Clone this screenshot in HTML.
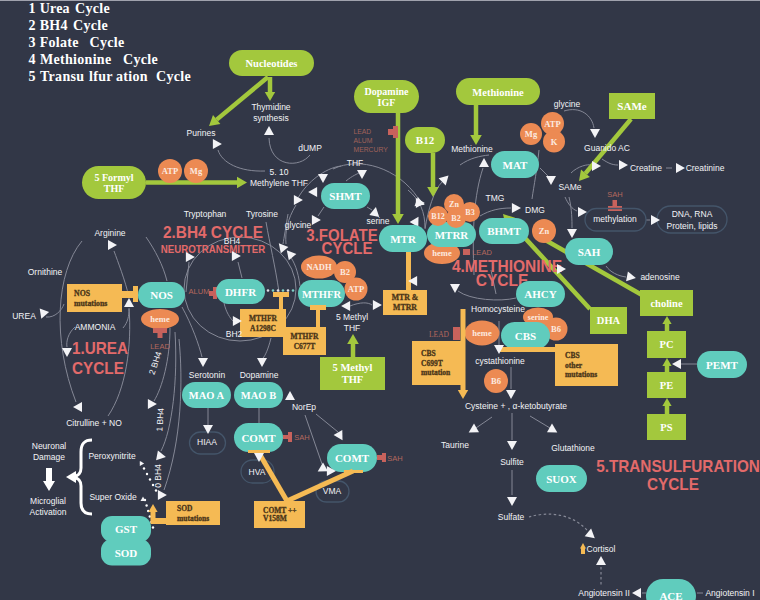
<!DOCTYPE html>
<html><head><meta charset="utf-8"><style>
html,body{margin:0;padding:0;background:#323747;width:760px;height:600px;overflow:hidden}
svg{display:block}
</style></head><body>
<svg width="760" height="600" viewBox="0 0 760 600">
<rect width="760" height="600" fill="#323747"/>
<line x1="0" y1="0.5" x2="760" y2="0.5" stroke="#a0a2ad" stroke-width="1.2" />
<text y="13" font-size="14" fill="#ffffff" font-family='"Liberation Serif", serif' font-weight="bold" letter-spacing="0.3"><tspan x="28.5">1</tspan><tspan x="39.7">Ure</tspan><tspan x="62.6">a</tspan><tspan x="75">Cycle</tspan></text>
<text y="30" font-size="14" fill="#ffffff" font-family='"Liberation Serif", serif' font-weight="bold" letter-spacing="0.3"><tspan x="28.5">2</tspan><tspan x="39.7">BH4</tspan><tspan x="73">Cycle</tspan></text>
<text y="47" font-size="14" fill="#ffffff" font-family='"Liberation Serif", serif' font-weight="bold" letter-spacing="0.3"><tspan x="28.5">3</tspan><tspan x="39.7">Folate</tspan><tspan x="89.5">Cycle</tspan></text>
<text y="64" font-size="14" fill="#ffffff" font-family='"Liberation Serif", serif' font-weight="bold" letter-spacing="0.3"><tspan x="28.5">4</tspan><tspan x="40">Methionine</tspan><tspan x="123">Cycle</tspan></text>
<text y="81" font-size="14" fill="#ffffff" font-family='"Liberation Serif", serif' font-weight="bold" letter-spacing="0.3"><tspan x="28.5">5</tspan><tspan x="40">Transu</tspan><tspan x="89">lfur</tspan><tspan x="116">ation</tspan><tspan x="156">Cycle</tspan></text>
<path d="M265,171 C240,172 222,163 218,150" stroke="#858896" stroke-width="1" fill="none" />
<path d="M310,155 C300,168 270,168 269,138" stroke="#858896" stroke-width="1" fill="none" />
<path d="M341,166 C325,168 307,182 298,198" stroke="#858896" stroke-width="1" fill="none" />
<path d="M296,205 C287,220 285,232 286,244" stroke="#858896" stroke-width="1" fill="none" />
<path d="M333,169 C360,156 398,168 418,198" stroke="#858896" stroke-width="1" fill="none" />
<path d="M346,181 C352,176 357,174 361,172" stroke="#858896" stroke-width="1" fill="none" />
<path d="M324,207 L318,216" stroke="#858896" stroke-width="1" fill="none" />
<path d="M367,207 L372,210" stroke="#858896" stroke-width="1" fill="none" />
<path d="M300,286 C298,270 294,262 290,256" stroke="#858896" stroke-width="1" fill="none" />
<path d="M266,222 C270,245 275,265 279,292" stroke="#858896" stroke-width="1" fill="none" />
<path d="M288,214 C286,226 284,238 283,244" stroke="#858896" stroke-width="1" fill="none" />
<ellipse cx="240" cy="289" rx="56" ry="52" fill="none" stroke="#858896" stroke-width="1"/>
<path d="M242,278 L238,262" stroke="#858896" stroke-width="1" fill="none" />
<path d="M224,303 C226,312 230,318 233,321" stroke="#858896" stroke-width="1" fill="none" />
<path d="M189,262 C188,272 187,282 186,292" stroke="#858896" stroke-width="1" fill="none" />
<path d="M146,237 C155,250 163,265 167,281" stroke="#858896" stroke-width="1" fill="none" />
<path d="M82,241 C56,272 52,340 76,402" stroke="#858896" stroke-width="1" fill="none" />
<path d="M46,317 C55,318 62,310 64,304" stroke="#858896" stroke-width="1" fill="none" />
<path d="M75,327 C68,333 66,342 67,347" stroke="#858896" stroke-width="1" fill="none" />
<path d="M108,416 C126,390 132,345 129,308" stroke="#858896" stroke-width="1" fill="none" />
<path d="M123,328 C128,322 129,316 129,309" stroke="#858896" stroke-width="1" fill="none" />
<path d="M129,297 C125,280 118,262 114,251" stroke="#858896" stroke-width="1" fill="none" />
<path d="M170,328 C170,360 162,388 154,401" stroke="#858896" stroke-width="1" fill="none" />
<path d="M175,332 C178,380 172,430 161,451" stroke="#858896" stroke-width="1" fill="none" />
<path d="M179,339 C183,380 182,440 164,490" stroke="#858896" stroke-width="1" fill="none" />
<path d="M271,338 C268,350 265,356 263,358" stroke="#858896" stroke-width="1" fill="none" />
<path d="M182,307 C192,325 199,345 202,357" stroke="#858896" stroke-width="1" fill="none" />
<path d="M208,408 L208,425" stroke="#858896" stroke-width="1" fill="none" />
<path d="M259,408 L259,423" stroke="#858896" stroke-width="1" fill="none" />
<path d="M305,415 L322,464" stroke="#858896" stroke-width="1" fill="none" />
<path d="M316,414 L338,432" stroke="#858896" stroke-width="1" fill="none" />
<path d="M460,165 C470,158 480,156 489,155" stroke="#858896" stroke-width="1" fill="none" />
<path d="M474,275 C472,230 474,195 483,168" stroke="#858896" stroke-width="1" fill="none" />
<path d="M425,229 C428,210 434,190 442,182" stroke="#858896" stroke-width="1" fill="none" />
<path d="M408,190 C420,200 425,212 425,228" stroke="#858896" stroke-width="1" fill="none" />
<path d="M540,168 L548,176" stroke="#858896" stroke-width="1" fill="none" />
<path d="M539,150 C537,170 534,185 532,199" stroke="#858896" stroke-width="1" fill="none" />
<path d="M480,216 C490,210 500,208 511,208" stroke="#858896" stroke-width="1" fill="none" />
<path d="M516,298 C500,302 470,300 458,291" stroke="#858896" stroke-width="1" fill="none" />
<path d="M491,270 L496,294" stroke="#858896" stroke-width="1" fill="none" />
<path d="M499,321 L499,345" stroke="#858896" stroke-width="1" fill="none" />
<path d="M511,367 L511,389" stroke="#858896" stroke-width="1" fill="none" />
<path d="M564,111 C580,106 592,115 594,128" stroke="#858896" stroke-width="1" fill="none" />
<path d="M571,173 C578,166 588,164 591,165" stroke="#858896" stroke-width="1" fill="none" />
<path d="M602,159 C608,163 612,165 618,165" stroke="#858896" stroke-width="1" fill="none" />
<path d="M666,168 L672,168" stroke="#858896" stroke-width="1" fill="none" />
<path d="M565,197 C568,204 572,209 577,211" stroke="#858896" stroke-width="1" fill="none" />
<path d="M569,197 C572,210 572,220 572,228" stroke="#858896" stroke-width="1" fill="none" />
<path d="M606,266 C610,272 618,276 626,277" stroke="#858896" stroke-width="1" fill="none" />
<path d="M697,364 L681,364" stroke="#858896" stroke-width="1" fill="none" />
<path d="M646,220 L650,220" stroke="#858896" stroke-width="1" fill="none" />
<path d="M492,417 L476,428" stroke="#858896" stroke-width="1" fill="none" />
<path d="M512,413 L512,440" stroke="#858896" stroke-width="1" fill="none" />
<path d="M530,416 L550,428" stroke="#858896" stroke-width="1" fill="none" />
<path d="M512,470 L512,495" stroke="#858896" stroke-width="1" fill="none" />
<path d="M529,517 C545,512 570,512 587,530" stroke="#858896" stroke-width="1.2" fill="none" stroke-dasharray="2.5,2.5"/>
<path d="M601,567 L601,586" stroke="#858896" stroke-width="1.2" fill="none" stroke-dasharray="2.5,2.5"/>
<path d="M646,593 L642,593" stroke="#858896" stroke-width="1" fill="none" />
<path d="M697,593 L703,593" stroke="#858896" stroke-width="1" fill="none" />
<rect x="229" y="50" width="85" height="26" rx="13.0" ry="13.0" fill="#a3c83d"/>
<text x="271.5" y="67.2" font-size="10.5" text-anchor="middle" fill="#ffffff" font-family='"Liberation Serif", serif' font-weight="bold" >Nucleotides</text>
<line x1="268" y1="77" x2="216.6928896282899" y2="119.61098996972535" stroke="#a3c83d" stroke-width="4.5" />
<polygon points="209.0,126.0 213.0,115.1 220.4,124.1" fill="#a3c83d"/>
<line x1="270" y1="77" x2="270.0" y2="92.0" stroke="#a3c83d" stroke-width="4.5" />
<polygon points="270.0,101.0 264.8,92.0 275.2,92.0" fill="#a3c83d"/>
<text x="271" y="110" font-size="8.5" text-anchor="middle" fill="#f3f3f6" font-family='"Liberation Sans", sans-serif' font-weight="normal" >Thymidine</text>
<text x="271" y="121" font-size="8.5" text-anchor="middle" fill="#f3f3f6" font-family='"Liberation Sans", sans-serif' font-weight="normal" >synthesis</text>
<text x="201" y="136" font-size="8.5" text-anchor="middle" fill="#f3f3f6" font-family='"Liberation Sans", sans-serif' font-weight="normal" >Purines</text>
<polygon points="221.9,144.0 212.9,149.0 212.9,139.0" fill="#f3f3f6"/>
<text x="310" y="151" font-size="8.5" text-anchor="middle" fill="#f3f3f6" font-family='"Liberation Sans", sans-serif' font-weight="normal" >dUMP</text>
<polygon points="269.0,126.0 274.0,135.1 264.0,135.1" fill="#f3f3f6"/>
<text x="279" y="175" font-size="8.5" text-anchor="middle" fill="#f3f3f6" font-family='"Liberation Sans", sans-serif' font-weight="normal" >5. 10</text>
<text x="279" y="186" font-size="8.5" text-anchor="middle" fill="#f3f3f6" font-family='"Liberation Sans", sans-serif' font-weight="normal" >Methylene THF</text>
<rect x="82" y="166" width="64" height="33" rx="16.5" ry="16.5" fill="#a3c83d"/>
<text x="114.0" y="180.8" font-size="10" text-anchor="middle" fill="#ffffff" font-family='"Liberation Serif", serif' font-weight="bold" >5 Formyl</text>
<text x="114.0" y="192.2" font-size="10" text-anchor="middle" fill="#ffffff" font-family='"Liberation Serif", serif' font-weight="bold" >THF</text>
<line x1="146" y1="182.5" x2="237.0" y2="182.5" stroke="#a3c83d" stroke-width="4.5" />
<polygon points="247.0,182.5 237.0,188.3 237.0,176.7" fill="#a3c83d"/>
<circle cx="170" cy="171" r="12" fill="#ec8a53"/>
<text x="170" y="174.0" font-size="8.5" text-anchor="middle" fill="#fcebe0" font-family='"Liberation Serif", serif' font-weight="bold" >ATP</text>
<circle cx="196" cy="171" r="12" fill="#ec8a53"/>
<text x="196" y="174.0" font-size="8.5" text-anchor="middle" fill="#fcebe0" font-family='"Liberation Serif", serif' font-weight="bold" >Mg</text>
<rect x="354" y="80" width="65" height="33" rx="16.5" ry="16.5" fill="#a3c83d"/>
<text x="386.5" y="94.8" font-size="10" text-anchor="middle" fill="#ffffff" font-family='"Liberation Serif", serif' font-weight="bold" >Dopamine</text>
<text x="386.5" y="106.2" font-size="10" text-anchor="middle" fill="#ffffff" font-family='"Liberation Serif", serif' font-weight="bold" >IGF</text>
<line x1="398" y1="113" x2="398.0" y2="214.0" stroke="#a3c83d" stroke-width="4.5" />
<polygon points="398.0,224.0 392.2,214.0 403.8,214.0" fill="#a3c83d"/>
<rect x="405" y="127" width="40" height="26" rx="13.0" ry="13.0" fill="#a3c83d"/>
<text x="425.0" y="144.3" font-size="11" text-anchor="middle" fill="#ffffff" font-family='"Liberation Serif", serif' font-weight="bold" >B12</text>
<line x1="433" y1="153" x2="433.0" y2="187.0" stroke="#a3c83d" stroke-width="4.5" />
<polygon points="433.0,197.0 427.2,187.0 438.8,187.0" fill="#a3c83d"/>
<rect x="456" y="78" width="84" height="27" rx="13.5" ry="13.5" fill="#a3c83d"/>
<text x="498.0" y="95.7" font-size="10.5" text-anchor="middle" fill="#ffffff" font-family='"Liberation Serif", serif' font-weight="bold" >Methionine</text>
<line x1="476" y1="105" x2="476.0" y2="135.0" stroke="#a3c83d" stroke-width="4.5" />
<polygon points="476.0,145.0 470.2,135.0 481.8,135.0" fill="#a3c83d"/>
<rect x="609" y="93" width="46" height="26" fill="#a3c83d"/>
<text x="632.0" y="109.8" font-size="11" text-anchor="middle" fill="#ffffff" font-family='"Liberation Serif", serif' font-weight="bold" >SAMe</text>
<line x1="631" y1="119" x2="585.4261226197647" y2="173.33808456874206" stroke="#a3c83d" stroke-width="4.5" />
<polygon points="579.0,181.0 581.0,169.6 589.9,177.1" fill="#a3c83d"/>
<text x="353.5" y="133.5" font-size="6.8" text-anchor="start" fill="#a0625a" font-family='"Liberation Sans", sans-serif' font-weight="normal" >LEAD</text>
<text x="353.5" y="142.5" font-size="6.8" text-anchor="start" fill="#a0625a" font-family='"Liberation Sans", sans-serif' font-weight="normal" >ALUM</text>
<text x="353.5" y="151.5" font-size="6.8" text-anchor="start" fill="#a0625a" font-family='"Liberation Sans", sans-serif' font-weight="normal" >MERCURY</text>
<rect x="393" y="126" width="5" height="12" fill="#c8625c"/>
<rect x="388" y="129" width="5" height="6" fill="#c8625c"/>
<text x="355" y="166" font-size="8.5" text-anchor="middle" fill="#f3f3f6" font-family='"Liberation Sans", sans-serif' font-weight="normal" >THF</text>
<rect x="321" y="183" width="49" height="26" rx="13.0" ry="13.0" fill="#60ccbd"/>
<text x="345.5" y="200.3" font-size="11" text-anchor="middle" fill="#ffffff" font-family='"Liberation Serif", serif' font-weight="bold" >SHMT</text>
<polygon points="323.0,182.9 318.0,173.9 328.0,173.9" fill="#f3f3f6"/>
<polygon points="308.1,192.0 317.1,187.0 317.1,197.0" fill="#f3f3f6"/>
<polygon points="302.9,200.0 293.9,205.0 293.9,195.0" fill="#f3f3f6"/>
<polygon points="362.0,178.9 357.0,169.9 367.0,169.9" fill="#f3f3f6"/>
<polygon points="375.9,207.1 379.2,216.9 369.4,215.1" fill="#f3f3f6"/>
<polygon points="320.9,220.0 311.9,225.0 311.9,215.0" fill="#f3f3f6"/>
<polygon points="424.9,203.0 415.9,208.0 415.9,198.0" fill="#f3f3f6"/>
<polygon points="418.5,216.7 418.3,227.0 409.6,222.0" fill="#f3f3f6"/>
<text x="298" y="228" font-size="8.5" text-anchor="middle" fill="#f3f3f6" font-family='"Liberation Sans", sans-serif' font-weight="normal" >glycine</text>
<text x="378" y="224" font-size="8.5" text-anchor="middle" fill="#f3f3f6" font-family='"Liberation Sans", sans-serif' font-weight="normal" >serine</text>
<text transform="translate(342,241) scale(1,1.1)" x="0" y="0" font-size="15" text-anchor="middle" fill="#e36a6a" font-family='"Liberation Sans", sans-serif' font-weight="bold">3.FOLATE</text>
<text transform="translate(347,254) scale(1,1.1)" x="0" y="0" font-size="15" text-anchor="middle" fill="#e36a6a" font-family='"Liberation Sans", sans-serif' font-weight="bold">CYCLE</text>
<text x="205" y="217" font-size="8.5" text-anchor="middle" fill="#f3f3f6" font-family='"Liberation Sans", sans-serif' font-weight="normal" >Tryptophan</text>
<text x="262" y="217" font-size="8.5" text-anchor="middle" fill="#f3f3f6" font-family='"Liberation Sans", sans-serif' font-weight="normal" >Tyrosine</text>
<text transform="translate(213,238) scale(1,1.1)" x="0" y="0" font-size="15.4" text-anchor="middle" fill="#e36a6a" font-family='"Liberation Sans", sans-serif' font-weight="bold">2.BH4 CYCLE</text>
<text transform="translate(213,253) scale(1,1.1)" x="0" y="0" font-size="9.7" text-anchor="middle" fill="#e36a6a" font-family='"Liberation Sans", sans-serif' font-weight="bold">NEUROTRANSMITTER</text>
<text x="232" y="244" font-size="8.5" text-anchor="middle" fill="#f3f3f6" font-family='"Liberation Sans", sans-serif' font-weight="normal" >BH4</text>
<polygon points="278.8,243.2 288.4,246.9 280.8,253.3" fill="#f3f3f6"/>
<polygon points="286.8,250.2 296.4,253.9 288.8,260.3" fill="#f3f3f6"/>
<polygon points="240.9,256.0 231.9,261.0 231.9,251.0" fill="#f3f3f6"/>
<polygon points="194.9,257.0 185.9,262.0 185.9,252.0" fill="#f3f3f6"/>
<text x="110" y="236" font-size="8.5" text-anchor="middle" fill="#f3f3f6" font-family='"Liberation Sans", sans-serif' font-weight="normal" >Arginine</text>
<polygon points="117.0,245.0 108.0,250.0 108.0,240.0" fill="#f3f3f6"/>
<text x="45" y="275" font-size="8.5" text-anchor="middle" fill="#f3f3f6" font-family='"Liberation Sans", sans-serif' font-weight="normal" >Ornithine</text>
<rect x="67" y="284" width="55" height="28" fill="#f5ba54"/>
<text x="74" y="295.9" font-size="7.8" text-anchor="start" fill="#4a3519" font-family='"Liberation Serif", serif' font-weight="bold" stroke="#4a3519" stroke-width="0.3" >NOS</text>
<text x="74" y="305.6" font-size="7.8" text-anchor="start" fill="#4a3519" font-family='"Liberation Serif", serif' font-weight="bold" stroke="#4a3519" stroke-width="0.3" >mutations</text>
<rect x="122" y="291" width="12" height="7" fill="#f5ba54"/>
<rect x="133" y="286" width="5" height="16" fill="#f5ba54"/>
<rect x="138" y="282" width="47" height="26" rx="13.0" ry="13.0" fill="#60ccbd"/>
<text x="161.5" y="299.4" font-size="11" text-anchor="middle" fill="#ffffff" font-family='"Liberation Serif", serif' font-weight="bold" >NOS</text>
<ellipse cx="160" cy="319" rx="19" ry="10" fill="#ec8a53"/>
<text x="160" y="322.0" font-size="8.5" text-anchor="middle" fill="#fcebe0" font-family='"Liberation Serif", serif' font-weight="bold" >heme</text>
<rect x="153" y="328" width="14" height="5" fill="#c8625c"/>
<rect x="157.5" y="333" width="5.0" height="5" fill="#c8625c"/>
<text x="160" y="349" font-size="7.5" text-anchor="middle" fill="#b5685e" font-family='"Liberation Sans", sans-serif' font-weight="normal" >LEAD</text>
<text x="24" y="319" font-size="8.5" text-anchor="middle" fill="#f3f3f6" font-family='"Liberation Sans", sans-serif' font-weight="normal" >UREA</text>
<polygon points="41.3,318.7 39.7,308.5 49.1,311.9" fill="#f3f3f6"/>
<text x="95" y="330" font-size="8.5" text-anchor="middle" fill="#f3f3f6" font-family='"Liberation Sans", sans-serif' font-weight="normal" >AMMONIA</text>
<text transform="translate(100,354) scale(1,1.1)" x="0" y="0" font-size="15.3" text-anchor="middle" fill="#e36a6a" font-family='"Liberation Sans", sans-serif' font-weight="bold">1.UREA</text>
<text transform="translate(98,374) scale(1,1.1)" x="0" y="0" font-size="15.3" text-anchor="middle" fill="#e36a6a" font-family='"Liberation Sans", sans-serif' font-weight="bold">CYCLE</text>
<polygon points="129.0,298.1 134.0,307.1 124.0,307.1" fill="#f3f3f6"/>
<polygon points="67.0,356.9 62.0,347.9 72.0,347.9" fill="#f3f3f6"/>
<polygon points="73.0,407.0 82.0,402.0 82.0,412.0" fill="#f3f3f6"/>
<polygon points="156.9,404.0 147.9,409.0 147.9,399.0" fill="#f3f3f6"/>
<text x="94" y="426" font-size="8.5" text-anchor="middle" fill="#f3f3f6" font-family='"Liberation Sans", sans-serif' font-weight="normal" >Citrulline + NO</text>
<text x="158" y="364" font-size="8.5" text-anchor="middle" fill="#f3f3f6" font-family='"Liberation Sans", sans-serif' font-weight="normal" transform="rotate(-72 158 364)">2 BH4</text>
<text x="163" y="420" font-size="8.5" text-anchor="middle" fill="#f3f3f6" font-family='"Liberation Sans", sans-serif' font-weight="normal" transform="rotate(-86 163 420)">1 BH4</text>
<text x="161" y="476" font-size="8.5" text-anchor="middle" fill="#f3f3f6" font-family='"Liberation Sans", sans-serif' font-weight="normal" transform="rotate(-90 161 476)">0 BH4</text>
<text x="199" y="294" font-size="7.5" text-anchor="middle" fill="#b5685e" font-family='"Liberation Sans", sans-serif' font-weight="normal" >ALUM</text>
<rect x="209" y="291" width="4" height="5" fill="#c8625c"/>
<rect x="213" y="287" width="4" height="12" fill="#c8625c"/>
<rect x="216" y="279" width="49" height="25" rx="12.5" ry="12.5" fill="#60ccbd"/>
<text x="240.5" y="295.9" font-size="11" text-anchor="middle" fill="#ffffff" font-family='"Liberation Serif", serif' font-weight="bold" >DHFR</text>
<circle cx="268" cy="290.5" r="1.3" fill="#e0e0e8"/>
<circle cx="273" cy="290.5" r="1.3" fill="#7fd0c8"/>
<circle cx="278" cy="290.5" r="1.3" fill="#e0e0e8"/>
<circle cx="283" cy="290.5" r="1.3" fill="#7fd0c8"/>
<circle cx="288" cy="290.5" r="1.3" fill="#e0e0e8"/>
<circle cx="293" cy="290.5" r="1.3" fill="#7fd0c8"/>
<rect x="298" y="280" width="47" height="27" rx="13.5" ry="13.5" fill="#60ccbd"/>
<text x="321.5" y="297.7" font-size="10.5" text-anchor="middle" fill="#ffffff" font-family='"Liberation Serif", serif' font-weight="bold" >MTHFR</text>
<ellipse cx="319" cy="267" rx="18" ry="11.5" fill="#ec8a53"/>
<text x="319" y="270.0" font-size="8.5" text-anchor="middle" fill="#fcebe0" font-family='"Liberation Serif", serif' font-weight="bold" >NADH</text>
<circle cx="345" cy="272" r="11" fill="#ec8a53"/>
<text x="345" y="275.0" font-size="8.5" text-anchor="middle" fill="#fcebe0" font-family='"Liberation Serif", serif' font-weight="bold" >B2</text>
<circle cx="356" cy="289" r="11.5" fill="#ec8a53"/>
<text x="356" y="292.0" font-size="8.5" text-anchor="middle" fill="#fcebe0" font-family='"Liberation Serif", serif' font-weight="bold" >ATP</text>
<rect x="240" y="309" width="46" height="28" fill="#f5ba54"/>
<text x="263.0" y="320.8" font-size="7.5" text-anchor="middle" fill="#4a3519" font-family='"Liberation Serif", serif' font-weight="bold" stroke="#4a3519" stroke-width="0.3" >MTHFR</text>
<text x="263.0" y="330.5" font-size="7.5" text-anchor="middle" fill="#4a3519" font-family='"Liberation Serif", serif' font-weight="bold" stroke="#4a3519" stroke-width="0.3" >A1298C</text>
<rect x="273" y="292" width="16" height="5" fill="#f5ba54"/>
<rect x="279" y="297" width="4" height="12" fill="#f5ba54"/>
<rect x="283" y="327" width="43" height="28" fill="#f5ba54"/>
<text x="304.5" y="338.8" font-size="7.5" text-anchor="middle" fill="#4a3519" font-family='"Liberation Serif", serif' font-weight="bold" stroke="#4a3519" stroke-width="0.3" >MTHFR</text>
<text x="304.5" y="348.5" font-size="7.5" text-anchor="middle" fill="#4a3519" font-family='"Liberation Serif", serif' font-weight="bold" stroke="#4a3519" stroke-width="0.3" >C677T</text>
<rect x="310" y="305" width="16" height="5" fill="#f5ba54"/>
<rect x="316" y="310" width="4" height="17" fill="#f5ba54"/>
<text x="234" y="337" font-size="8.5" text-anchor="middle" fill="#f3f3f6" font-family='"Liberation Sans", sans-serif' font-weight="normal" >BH2</text>
<polygon points="241.9,321.0 232.9,326.0 232.9,316.0" fill="#f3f3f6"/>
<text x="352" y="320" font-size="8.5" text-anchor="middle" fill="#f3f3f6" font-family='"Liberation Sans", sans-serif' font-weight="normal" >5 Methyl</text>
<text x="352" y="331" font-size="8.5" text-anchor="middle" fill="#f3f3f6" font-family='"Liberation Sans", sans-serif' font-weight="normal" >THF</text>
<path d="M350,306 C360,302 368,302 372,305" stroke="#858896" stroke-width="1" fill="none" />
<polygon points="341.1,306.0 350.1,301.0 350.1,311.0" fill="#f3f3f6"/>
<polygon points="381.9,305.0 372.9,310.0 372.9,300.0" fill="#f3f3f6"/>
<line x1="353" y1="357" x2="353.0" y2="344.0" stroke="#a3c83d" stroke-width="4.5" />
<polygon points="353.0,334.0 358.8,344.0 347.2,344.0" fill="#a3c83d"/>
<rect x="320" y="357" width="65" height="33" fill="#a3c83d"/>
<text x="352.5" y="371.1" font-size="10.5" text-anchor="middle" fill="#ffffff" font-family='"Liberation Serif", serif' font-weight="bold" >5 Methyl</text>
<text x="352.5" y="383.2" font-size="10.5" text-anchor="middle" fill="#ffffff" font-family='"Liberation Serif", serif' font-weight="bold" >THF</text>
<text x="207" y="378" font-size="8.5" text-anchor="middle" fill="#f3f3f6" font-family='"Liberation Sans", sans-serif' font-weight="normal" >Serotonin</text>
<text x="259" y="378" font-size="8.5" text-anchor="middle" fill="#f3f3f6" font-family='"Liberation Sans", sans-serif' font-weight="normal" >Dopamine</text>
<polygon points="203.0,366.9 198.0,357.9 208.0,357.9" fill="#f3f3f6"/>
<polygon points="262.0,366.9 257.0,357.9 267.0,357.9" fill="#f3f3f6"/>
<polygon points="290.0,391.1 295.0,400.1 285.0,400.1" fill="#f3f3f6"/>
<rect x="182" y="382" width="49" height="26" rx="13.0" ry="13.0" fill="#60ccbd"/>
<text x="206.5" y="399.2" font-size="10.5" text-anchor="middle" fill="#ffffff" font-family='"Liberation Serif", serif' font-weight="bold" >MAO A</text>
<rect x="234" y="382" width="49" height="26" rx="13.0" ry="13.0" fill="#60ccbd"/>
<text x="258.5" y="399.2" font-size="10.5" text-anchor="middle" fill="#ffffff" font-family='"Liberation Serif", serif' font-weight="bold" >MAO B</text>
<text x="304" y="410" font-size="8.5" text-anchor="middle" fill="#f3f3f6" font-family='"Liberation Sans", sans-serif' font-weight="normal" >NorEp</text>
<text x="472" y="152" font-size="8.5" text-anchor="middle" fill="#f3f3f6" font-family='"Liberation Sans", sans-serif' font-weight="normal" >Methionine</text>
<rect x="491" y="151" width="48" height="27" rx="13.5" ry="13.5" fill="#60ccbd"/>
<text x="515.0" y="168.8" font-size="11" text-anchor="middle" fill="#ffffff" font-family='"Liberation Serif", serif' font-weight="bold" >MAT</text>
<polygon points="484.0,158.1 489.0,167.1 479.0,167.1" fill="#f3f3f6"/>
<polygon points="448.5,175.5 445.7,185.4 438.6,178.3" fill="#f3f3f6"/>
<polygon points="551.0,184.9 546.0,175.9 556.0,175.9" fill="#f3f3f6"/>
<text x="567" y="107" font-size="8.5" text-anchor="middle" fill="#f3f3f6" font-family='"Liberation Sans", sans-serif' font-weight="normal" >glycine</text>
<polygon points="595.0,137.9 590.0,128.9 600.0,128.9" fill="#f3f3f6"/>
<circle cx="531" cy="134" r="11" fill="#ec8a53"/>
<text x="531" y="137.0" font-size="8.5" text-anchor="middle" fill="#fcebe0" font-family='"Liberation Serif", serif' font-weight="bold" >Mg</text>
<circle cx="552.5" cy="123.5" r="11.5" fill="#ec8a53"/>
<text x="552.5" y="126.5" font-size="8.5" text-anchor="middle" fill="#fcebe0" font-family='"Liberation Serif", serif' font-weight="bold" >ATP</text>
<circle cx="554" cy="141.5" r="11" fill="#ec8a53"/>
<text x="554" y="144.5" font-size="8.5" text-anchor="middle" fill="#fcebe0" font-family='"Liberation Serif", serif' font-weight="bold" >K</text>
<text x="495" y="201" font-size="8.5" text-anchor="middle" fill="#f3f3f6" font-family='"Liberation Sans", sans-serif' font-weight="normal" >TMG</text>
<text x="535" y="213" font-size="8.5" text-anchor="middle" fill="#f3f3f6" font-family='"Liberation Sans", sans-serif' font-weight="normal" >DMG</text>
<polygon points="521.0,208.0 511.9,213.0 511.9,203.0" fill="#f3f3f6"/>
<polygon points="424.7,204.7 414.5,206.3 417.9,196.9" fill="#f3f3f6"/>
<rect x="379" y="225" width="48" height="27" rx="13.5" ry="13.5" fill="#60ccbd"/>
<text x="403.0" y="242.8" font-size="11" text-anchor="middle" fill="#ffffff" font-family='"Liberation Serif", serif' font-weight="bold" >MTR</text>
<ellipse cx="442" cy="253" rx="18" ry="11" fill="#ec8a53"/>
<text x="442" y="256.0" font-size="8.5" text-anchor="middle" fill="#fcebe0" font-family='"Liberation Serif", serif' font-weight="bold" >heme</text>
<rect x="427" y="222" width="49" height="25" rx="12.5" ry="12.5" fill="#60ccbd"/>
<text x="451.5" y="238.8" font-size="11" text-anchor="middle" fill="#ffffff" font-family='"Liberation Serif", serif' font-weight="bold" >MTRR</text>
<circle cx="454" cy="204" r="10" fill="#ec8a53"/>
<text x="454" y="206.8" font-size="8" text-anchor="middle" fill="#fcebe0" font-family='"Liberation Serif", serif' font-weight="bold" >Zn</text>
<circle cx="438" cy="216" r="10" fill="#ec8a53"/>
<text x="438" y="218.8" font-size="8" text-anchor="middle" fill="#fcebe0" font-family='"Liberation Serif", serif' font-weight="bold" >B12</text>
<circle cx="470" cy="212" r="10" fill="#ec8a53"/>
<text x="470" y="214.8" font-size="8" text-anchor="middle" fill="#fcebe0" font-family='"Liberation Serif", serif' font-weight="bold" >B3</text>
<circle cx="456" cy="218" r="10" fill="#ec8a53"/>
<text x="456" y="220.8" font-size="8" text-anchor="middle" fill="#fcebe0" font-family='"Liberation Serif", serif' font-weight="bold" >B2</text>
<rect x="463" y="249" width="7" height="6" fill="#c8625c"/>
<text x="482" y="255" font-size="7.5" text-anchor="middle" fill="#b5685e" font-family='"Liberation Sans", sans-serif' font-weight="normal" >LEAD</text>
<line x1="590" y1="309" x2="510.4291032613748" y2="222.1122391934552" stroke="#a3c83d" stroke-width="4.5" />
<polygon points="503.0,214.0 515.1,217.8 505.7,226.4" fill="#a3c83d"/>
<line x1="642" y1="295" x2="540.869290118928" y2="237.49430222448845" stroke="#a3c83d" stroke-width="4.5" />
<polygon points="540.0,237.0 541.2,237.0 540.6,238.0" fill="#a3c83d"/>
<rect x="479" y="218" width="50" height="26" rx="13.0" ry="13.0" fill="#60ccbd"/>
<text x="504.0" y="235.3" font-size="11" text-anchor="middle" fill="#ffffff" font-family='"Liberation Serif", serif' font-weight="bold" >BHMT</text>
<circle cx="544" cy="231" r="12" fill="#ec8a53"/>
<text x="544" y="234.0" font-size="8.5" text-anchor="middle" fill="#fcebe0" font-family='"Liberation Serif", serif' font-weight="bold" >Zn</text>
<text transform="translate(507,272) scale(1,1.1)" x="0" y="0" font-size="15.5" text-anchor="middle" fill="#e36a6a" font-family='"Liberation Sans", sans-serif' font-weight="bold">4.METHIONINE</text>
<text transform="translate(502,286) scale(1,1.1)" x="0" y="0" font-size="15.5" text-anchor="middle" fill="#e36a6a" font-family='"Liberation Sans", sans-serif' font-weight="bold">CYCLE</text>
<polygon points="566.0,269.0 557.0,274.0 557.0,264.0" fill="#f3f3f6"/>
<text x="607" y="151" font-size="8.5" text-anchor="middle" fill="#f3f3f6" font-family='"Liberation Sans", sans-serif' font-weight="normal" >Guanido AC</text>
<text x="646" y="171" font-size="8.5" text-anchor="middle" fill="#f3f3f6" font-family='"Liberation Sans", sans-serif' font-weight="normal" >Creatine</text>
<text x="705" y="171" font-size="8.5" text-anchor="middle" fill="#f3f3f6" font-family='"Liberation Sans", sans-serif' font-weight="normal" >Creatinine</text>
<polygon points="628.0,165.0 619.0,170.0 619.0,160.0" fill="#f3f3f6"/>
<polygon points="685.0,168.0 676.0,173.0 676.0,163.0" fill="#f3f3f6"/>
<polygon points="601.0,166.0 592.0,171.0 592.0,161.0" fill="#f3f3f6"/>
<text x="570" y="190" font-size="8.5" text-anchor="middle" fill="#f3f3f6" font-family='"Liberation Sans", sans-serif' font-weight="normal" >SAMe</text>
<text x="615" y="197" font-size="7.5" text-anchor="middle" fill="#b5685e" font-family='"Liberation Sans", sans-serif' font-weight="normal" >SAH</text>
<rect x="608" y="206" width="14" height="5" fill="#c8625c"/>
<rect x="612.5" y="200" width="4.5" height="6" fill="#c8625c"/>
<rect x="585" y="208.5" width="61" height="22.5" rx="11.25" fill="none" stroke="#44556a" stroke-width="1.3"/>
<text x="615" y="222" font-size="8.5" text-anchor="middle" fill="#f3f3f6" font-family='"Liberation Sans", sans-serif' font-weight="normal" >methylation</text>
<rect x="657" y="206" width="70" height="27" rx="13.5" fill="none" stroke="#44556a" stroke-width="1.3"/>
<text x="692" y="217" font-size="8.5" text-anchor="middle" fill="#f3f3f6" font-family='"Liberation Sans", sans-serif' font-weight="normal" >DNA, RNA</text>
<text x="692" y="229" font-size="8.5" text-anchor="middle" fill="#f3f3f6" font-family='"Liberation Sans", sans-serif' font-weight="normal" >Protein, lipids</text>
<polygon points="587.0,212.0 578.0,217.0 578.0,207.0" fill="#f3f3f6"/>
<polygon points="660.0,220.0 651.0,225.0 651.0,215.0" fill="#f3f3f6"/>
<polygon points="572.0,237.9 567.0,228.9 577.0,228.9" fill="#f3f3f6"/>
<rect x="565" y="238" width="48" height="27" rx="13.5" ry="13.5" fill="#60ccbd"/>
<text x="589.0" y="255.8" font-size="11" text-anchor="middle" fill="#ffffff" font-family='"Liberation Serif", serif' font-weight="bold" >SAH</text>
<text x="660" y="280" font-size="8.5" text-anchor="middle" fill="#f3f3f6" font-family='"Liberation Sans", sans-serif' font-weight="normal" >adenosine</text>
<polygon points="635.9,277.9 626.1,281.2 627.9,271.4" fill="#f3f3f6"/>
<rect x="640" y="290" width="53" height="26" fill="#a3c83d"/>
<text x="666.5" y="306.7" font-size="10.5" text-anchor="middle" fill="#ffffff" font-family='"Liberation Serif", serif' font-weight="bold" >choline</text>
<rect x="590" y="307" width="37" height="27" fill="#a3c83d"/>
<text x="608.5" y="324.2" font-size="10.5" text-anchor="middle" fill="#ffffff" font-family='"Liberation Serif", serif' font-weight="bold" >DHA</text>
<rect x="647" y="331" width="39" height="27" fill="#a3c83d"/>
<text x="666.5" y="348.2" font-size="10.5" text-anchor="middle" fill="#ffffff" font-family='"Liberation Serif", serif' font-weight="bold" >PC</text>
<rect x="647" y="372" width="39" height="26" fill="#a3c83d"/>
<text x="666.5" y="388.7" font-size="10.5" text-anchor="middle" fill="#ffffff" font-family='"Liberation Serif", serif' font-weight="bold" >PE</text>
<rect x="647" y="414" width="39" height="26" fill="#a3c83d"/>
<text x="666.5" y="430.7" font-size="10.5" text-anchor="middle" fill="#ffffff" font-family='"Liberation Serif", serif' font-weight="bold" >PS</text>
<line x1="667" y1="331" x2="667.0" y2="324.0" stroke="#a3c83d" stroke-width="4.5" />
<polygon points="667.0,316.0 671.6,324.0 662.4,324.0" fill="#a3c83d"/>
<line x1="667" y1="372" x2="667.0" y2="366.0" stroke="#a3c83d" stroke-width="4.5" />
<polygon points="667.0,358.0 671.6,366.0 662.4,366.0" fill="#a3c83d"/>
<line x1="667" y1="414" x2="667.0" y2="406.0" stroke="#a3c83d" stroke-width="4.5" />
<polygon points="667.0,398.0 671.6,406.0 662.4,406.0" fill="#a3c83d"/>
<rect x="697" y="351" width="50" height="27" rx="13.5" ry="13.5" fill="#60ccbd"/>
<text x="722.0" y="368.9" font-size="11" text-anchor="middle" fill="#ffffff" font-family='"Liberation Serif", serif' font-weight="bold" >PEMT</text>
<polygon points="672.0,364.0 681.0,359.0 681.0,369.0" fill="#f3f3f6"/>
<rect x="383" y="290" width="44" height="25" fill="#f5ba54"/>
<text x="405.0" y="300.2" font-size="7.8" text-anchor="middle" fill="#4a3519" font-family='"Liberation Serif", serif' font-weight="bold" stroke="#4a3519" stroke-width="0.3" >MTR &amp;</text>
<text x="405.0" y="310.3" font-size="7.8" text-anchor="middle" fill="#4a3519" font-family='"Liberation Serif", serif' font-weight="bold" stroke="#4a3519" stroke-width="0.3" >MTRR</text>
<rect x="406" y="252" width="5" height="38" fill="#f5ba54"/>
<polygon points="408.1,281.0 417.1,276.0 417.1,286.0" fill="#f3f3f6"/>
<polygon points="455.0,292.9 450.0,283.9 460.0,283.9" fill="#f3f3f6"/>
<rect x="516" y="281" width="49" height="26" rx="13.0" ry="13.0" fill="#60ccbd"/>
<text x="540.5" y="298.4" font-size="11" text-anchor="middle" fill="#ffffff" font-family='"Liberation Serif", serif' font-weight="bold" >AHCY</text>
<text x="498" y="312" font-size="8.5" text-anchor="middle" fill="#f3f3f6" font-family='"Liberation Sans", sans-serif' font-weight="normal" >Homocysteine</text>
<circle cx="556" cy="329" r="11.5" fill="#ec8a53"/>
<text x="556" y="332.0" font-size="8.5" text-anchor="middle" fill="#fcebe0" font-family='"Liberation Serif", serif' font-weight="bold" >B6</text>
<ellipse cx="538" cy="317" rx="15" ry="9.5" fill="#ec8a53"/>
<text x="538" y="319.8" font-size="8" text-anchor="middle" fill="#fcebe0" font-family='"Liberation Serif", serif' font-weight="bold" >serine</text>
<rect x="501" y="322" width="49" height="27" rx="13.5" ry="13.5" fill="#60ccbd"/>
<text x="525.5" y="339.9" font-size="11" text-anchor="middle" fill="#ffffff" font-family='"Liberation Serif", serif' font-weight="bold" >CBS</text>
<ellipse cx="482" cy="333" rx="17.5" ry="12.5" fill="#ec8a53"/>
<text x="482" y="336.0" font-size="8.5" text-anchor="middle" fill="#fcebe0" font-family='"Liberation Serif", serif' font-weight="bold" >heme</text>
<text x="439" y="337" font-size="7.5" text-anchor="middle" fill="#b5685e" font-family='"Liberation Serif", serif' font-weight="normal" >LEAD</text>
<rect x="453" y="327" width="7" height="13" fill="#c8625c"/>
<rect x="412" y="341" width="50" height="44" fill="#f5ba54"/>
<text x="421" y="356.2" font-size="7.5" text-anchor="start" fill="#4a3519" font-family='"Liberation Serif", serif' font-weight="bold" stroke="#4a3519" stroke-width="0.3" >CBS</text>
<text x="421" y="365.6" font-size="7.5" text-anchor="start" fill="#4a3519" font-family='"Liberation Serif", serif' font-weight="bold" stroke="#4a3519" stroke-width="0.3" >C699T</text>
<text x="421" y="375.0" font-size="7.5" text-anchor="start" fill="#4a3519" font-family='"Liberation Serif", serif' font-weight="bold" stroke="#4a3519" stroke-width="0.3" >mutation</text>
<line x1="463" y1="309" x2="463.0" y2="390.0" stroke="#f5ba54" stroke-width="5" />
<polygon points="463.0,399.0 457.8,390.0 468.2,390.0" fill="#f5ba54"/>
<rect x="500" y="347" width="56" height="5" fill="#f5ba54"/>
<polygon points="499.0,353.9 494.0,344.9 504.0,344.9" fill="#f3f3f6"/>
<text x="500" y="364" font-size="8.5" text-anchor="middle" fill="#f3f3f6" font-family='"Liberation Sans", sans-serif' font-weight="normal" >cystathionine</text>
<circle cx="496" cy="381" r="12" fill="#ec8a53"/>
<text x="496" y="384.0" font-size="8.5" text-anchor="middle" fill="#fcebe0" font-family='"Liberation Serif", serif' font-weight="bold" >B6</text>
<polygon points="511.0,398.9 506.0,389.9 516.0,389.9" fill="#f3f3f6"/>
<text x="516" y="409" font-size="8.5" text-anchor="middle" fill="#f3f3f6" font-family='"Liberation Sans", sans-serif' font-weight="normal" >Cysteine + , α-ketobutyrate</text>
<rect x="555" y="344" width="63" height="42" fill="#f5ba54"/>
<text x="565" y="358.2" font-size="7.5" text-anchor="start" fill="#4a3519" font-family='"Liberation Serif", serif' font-weight="bold" stroke="#4a3519" stroke-width="0.3" >CBS</text>
<text x="565" y="367.6" font-size="7.5" text-anchor="start" fill="#4a3519" font-family='"Liberation Serif", serif' font-weight="bold" stroke="#4a3519" stroke-width="0.3" >other</text>
<text x="565" y="377.0" font-size="7.5" text-anchor="start" fill="#4a3519" font-family='"Liberation Serif", serif' font-weight="bold" stroke="#4a3519" stroke-width="0.3" >mutations</text>
<text x="455" y="448" font-size="8.5" text-anchor="middle" fill="#f3f3f6" font-family='"Liberation Sans", sans-serif' font-weight="normal" >Taurine</text>
<polygon points="468.7,432.5 474.0,423.6 479.0,432.3" fill="#f3f3f6"/>
<text x="512" y="465" font-size="8.5" text-anchor="middle" fill="#f3f3f6" font-family='"Liberation Sans", sans-serif' font-weight="normal" >Sulfite</text>
<polygon points="512.0,449.9 507.0,440.9 517.0,440.9" fill="#f3f3f6"/>
<text x="573" y="451" font-size="8.5" text-anchor="middle" fill="#f3f3f6" font-family='"Liberation Sans", sans-serif' font-weight="normal" >Glutathione</text>
<polygon points="557.3,432.5 547.0,432.3 552.0,423.6" fill="#f3f3f6"/>
<rect x="536" y="465" width="51" height="27" rx="13.5" ry="13.5" fill="#60ccbd"/>
<text x="561.5" y="482.9" font-size="11" text-anchor="middle" fill="#ffffff" font-family='"Liberation Serif", serif' font-weight="bold" >SUOX</text>
<polygon points="512.0,505.9 507.0,496.9 517.0,496.9" fill="#f3f3f6"/>
<text x="511" y="520" font-size="8.5" text-anchor="middle" fill="#f3f3f6" font-family='"Liberation Sans", sans-serif' font-weight="normal" >Sulfate</text>
<text transform="translate(678,472) scale(1,1.1)" x="0" y="0" font-size="15.3" text-anchor="middle" fill="#e36a6a" font-family='"Liberation Sans", sans-serif' font-weight="bold">5.TRANSULFURATION</text>
<text transform="translate(673,490) scale(1,1.1)" x="0" y="0" font-size="15.3" text-anchor="middle" fill="#e36a6a" font-family='"Liberation Sans", sans-serif' font-weight="bold">CYCLE</text>
<polygon points="594.8,538.2 584.7,536.2 591.1,528.6" fill="#f3f3f6"/>
<text x="601" y="552" font-size="8.5" text-anchor="middle" fill="#f3f3f6" font-family='"Liberation Sans", sans-serif' font-weight="normal" >Cortisol</text>
<rect x="581" y="548" width="4" height="6" fill="#f5ba54"/>
<polygon points="583.0,543.0 586.0,548.4 580.0,548.4" fill="#f5ba54"/>
<polygon points="601.0,556.0 606.0,565.0 596.0,565.0" fill="#f3f3f6"/>
<text x="604" y="596" font-size="8.5" text-anchor="middle" fill="#f3f3f6" font-family='"Liberation Sans", sans-serif' font-weight="normal" >Angiotensin II</text>
<polygon points="632.0,593.0 641.0,588.0 641.0,598.0" fill="#f3f3f6"/>
<rect x="646" y="579" width="50" height="34" rx="17.0" ry="17.0" fill="#60ccbd"/>
<text x="671.0" y="600.4" font-size="11" text-anchor="middle" fill="#ffffff" font-family='"Liberation Serif", serif' font-weight="bold" >ACE</text>
<text x="730" y="596" font-size="8.5" text-anchor="middle" fill="#f3f3f6" font-family='"Liberation Sans", sans-serif' font-weight="normal" >Angiotensin I</text>
<text x="49" y="449" font-size="8.5" text-anchor="middle" fill="#f3f3f6" font-family='"Liberation Sans", sans-serif' font-weight="normal" >Neuronal</text>
<text x="49" y="460" font-size="8.5" text-anchor="middle" fill="#f3f3f6" font-family='"Liberation Sans", sans-serif' font-weight="normal" >Damage</text>
<rect x="46" y="468" width="6" height="14" fill="#ffffff"/>
<polygon points="43,481 55,481 49,491" fill="#ffffff"/>
<text x="48" y="504" font-size="8.5" text-anchor="middle" fill="#f3f3f6" font-family='"Liberation Sans", sans-serif' font-weight="normal" >Microglial</text>
<text x="48" y="515" font-size="8.5" text-anchor="middle" fill="#f3f3f6" font-family='"Liberation Sans", sans-serif' font-weight="normal" >Activation</text>
<text x="112" y="459" font-size="8.5" text-anchor="middle" fill="#f3f3f6" font-family='"Liberation Sans", sans-serif' font-weight="normal" >Peroxynitrite</text>
<text x="113" y="500" font-size="8.5" text-anchor="middle" fill="#f3f3f6" font-family='"Liberation Sans", sans-serif' font-weight="normal" >Super Oxide</text>
<path d="M92,440 C84,440 81,444 81,452 L81,468 C81,474 78,476 73,477 C78,478 81,480 81,486 L81,503 C81,510 84,514 92,514" stroke="#ffffff" stroke-width="3" fill="none" />
<polygon points="66,477 76,471 76,483" fill="#ffffff"/>
<circle cx="141" cy="463.0" r="1.2" fill="#ffffff"/>
<circle cx="144" cy="468.5" r="1.2" fill="#ffffff"/>
<circle cx="147" cy="474.0" r="1.2" fill="#ffffff"/>
<circle cx="150" cy="479.5" r="1.2" fill="#ffffff"/>
<circle cx="153" cy="485.0" r="1.2" fill="#ffffff"/>
<circle cx="156" cy="490.5" r="1.2" fill="#ffffff"/>
<circle cx="145.0" cy="500.0" r="1.2" fill="#ffffff"/>
<circle cx="146.6" cy="505.5" r="1.2" fill="#ffffff"/>
<circle cx="148.2" cy="511.0" r="1.2" fill="#ffffff"/>
<circle cx="149.8" cy="516.5" r="1.2" fill="#ffffff"/>
<circle cx="151.4" cy="522.0" r="1.2" fill="#ffffff"/>
<circle cx="153.0" cy="527.5" r="1.2" fill="#ffffff"/>
<polygon points="139.8,460.9 144.2,463.5 139.8,466.0" fill="#f3f3f6"/>
<polygon points="143.0,496.5 145.5,501.0 140.5,501.0" fill="#f3f3f6"/>
<polygon points="165.9,456.9 156.1,460.2 157.9,450.4" fill="#f3f3f6"/>
<polygon points="166.9,495.0 157.9,500.0 157.9,490.0" fill="#f3f3f6"/>
<rect x="166" y="501" width="54" height="24" fill="#f5ba54"/>
<text x="177" y="510.8" font-size="7.5" text-anchor="start" fill="#4a3519" font-family='"Liberation Serif", serif' font-weight="bold" stroke="#4a3519" stroke-width="0.3" >SOD</text>
<text x="177" y="520.5" font-size="7.5" text-anchor="start" fill="#4a3519" font-family='"Liberation Serif", serif' font-weight="bold" stroke="#4a3519" stroke-width="0.3" >mutations</text>
<rect x="151" y="518" width="15" height="6" fill="#f5ba54"/>
<line x1="153" y1="524" x2="153.0" y2="512.0" stroke="#f5ba54" stroke-width="5" />
<polygon points="153.0,504.0 157.6,512.0 148.4,512.0" fill="#f5ba54"/>
<rect x="101" y="516" width="50" height="26" rx="11" ry="11" fill="#60ccbd"/>
<text x="126.0" y="533.4" font-size="11" text-anchor="middle" fill="#ffffff" font-family='"Liberation Serif", serif' font-weight="bold" >GST</text>
<rect x="101" y="539" width="50" height="26.5" rx="11" ry="11" fill="#60ccbd"/>
<text x="126.0" y="556.6" font-size="11" text-anchor="middle" fill="#ffffff" font-family='"Liberation Serif", serif' font-weight="bold" >SOD</text>
<rect x="189.5" y="432" width="36" height="22" rx="11" fill="none" stroke="#44556a" stroke-width="1.3"/>
<text x="207" y="445" font-size="8.5" text-anchor="middle" fill="#f3f3f6" font-family='"Liberation Sans", sans-serif' font-weight="normal" >HIAA</text>
<polygon points="208.0,433.9 203.0,424.9 213.0,424.9" fill="#f3f3f6"/>
<rect x="234" y="423" width="49" height="29" rx="14.5" ry="14.5" fill="#60ccbd"/>
<text x="258.5" y="441.9" font-size="11" text-anchor="middle" fill="#ffffff" font-family='"Liberation Serif", serif' font-weight="bold" >COMT</text>
<rect x="248" y="450" width="22" height="3" fill="#f5ba54"/>
<rect x="283" y="435" width="5" height="4" fill="#c8625c"/>
<rect x="288" y="432" width="4" height="10" fill="#c8625c"/>
<text x="302" y="440" font-size="7.5" text-anchor="middle" fill="#b5685e" font-family='"Liberation Sans", sans-serif' font-weight="normal" >SAH</text>
<rect x="241" y="460" width="33" height="23" rx="11.5" fill="none" stroke="#44556a" stroke-width="1.3"/>
<text x="257" y="475" font-size="8.5" text-anchor="middle" fill="#f3f3f6" font-family='"Liberation Sans", sans-serif' font-weight="normal" >HVA</text>
<rect x="327" y="444" width="50" height="28" rx="14.0" ry="14.0" fill="#60ccbd"/>
<text x="352.0" y="462.4" font-size="11" text-anchor="middle" fill="#ffffff" font-family='"Liberation Serif", serif' font-weight="bold" >COMT</text>
<rect x="344" y="470" width="19" height="3" fill="#f5ba54"/>
<rect x="377" y="455" width="5" height="5" fill="#c8625c"/>
<rect x="382" y="453" width="4" height="9" fill="#c8625c"/>
<text x="395" y="461" font-size="7.5" text-anchor="middle" fill="#b5685e" font-family='"Liberation Sans", sans-serif' font-weight="normal" >SAH</text>
<rect x="316" y="481" width="33" height="21" rx="10.5" fill="none" stroke="#44556a" stroke-width="1.3"/>
<text x="332" y="494" font-size="8.5" text-anchor="middle" fill="#f3f3f6" font-family='"Liberation Sans", sans-serif' font-weight="normal" >VMA</text>
<polygon points="317.7,471.5 323.0,462.6 328.0,471.3" fill="#f3f3f6"/>
<polygon points="335.9,471.0 326.9,476.0 326.9,466.0" fill="#f3f3f6"/>
<polygon points="342.5,440.3 333.6,435.0 342.3,430.0" fill="#f3f3f6"/>
<line x1="287" y1="501" x2="259" y2="453" stroke="#f5ba54" stroke-width="5" />
<line x1="287" y1="501" x2="353" y2="471" stroke="#f5ba54" stroke-width="5" />
<polygon points="259.0,461.9 254.0,452.9 264.0,452.9" fill="#f3f3f6"/>
<rect x="254" y="501" width="51" height="27" fill="#f5ba54"/>
<text x="263" y="513.0" font-size="7.5" text-anchor="start" fill="#4a3519" font-family='"Liberation Serif", serif' font-weight="bold" stroke="#4a3519" stroke-width="0.3" >COMT ++</text>
<text x="263" y="521.2" font-size="7.5" text-anchor="start" fill="#4a3519" font-family='"Liberation Serif", serif' font-weight="bold" stroke="#4a3519" stroke-width="0.3" >V158M</text>
</svg>
</body></html>
